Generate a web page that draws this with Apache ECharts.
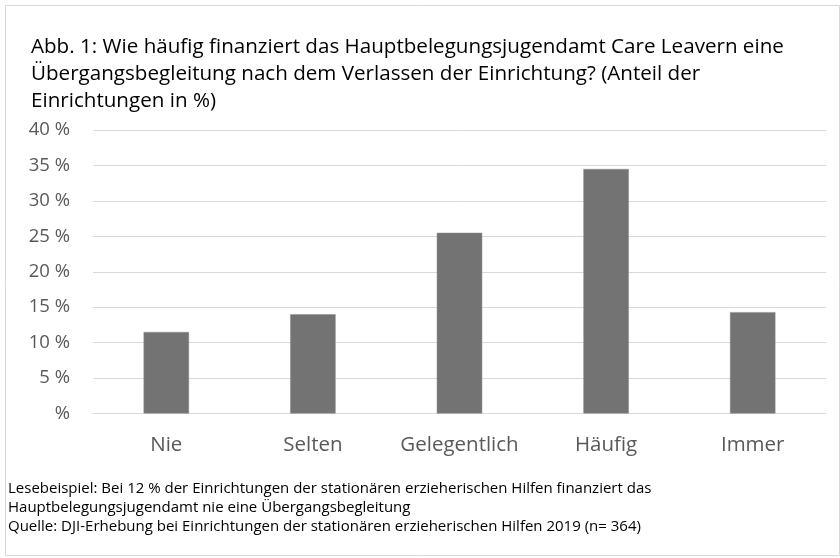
<!DOCTYPE html>
<html>
<head>
<meta charset="utf-8">
<script src="https://cdn.jsdelivr.net/npm/echarts@6/dist/echarts.min.js"></script>
<style>
html, body { margin: 0; padding: 0; background: #fff; }
#chart { width: 840px; height: 558px; }
</style>
</head>
<body>
<div id="chart"></div>
<script>
// Kategorien und Anteile (in %)
var categories = ['Nie', 'Selten', 'Gelegentlich', 'Häufig', 'Immer'];
var values = [11.5, 14.0, 25.5, 34.5, 14.3];

var titleLines = [
    'Abb. 1: Wie häufig finanziert das Hauptbelegungsjugendamt Care Leavern eine',
    'Übergangsbegleitung nach dem Verlassen der Einrichtung? (Anteil der',
    'Einrichtungen in %)'
];
var noteLines = [
    'Lesebeispiel: Bei 12 % der Einrichtungen der stationären erzieherischen Hilfen finanziert das',
    'Hauptbelegungsjugendamt nie eine Übergangsbegleitung',
    'Quelle: DJI-Erhebung bei Einrichtungen der stationären erzieherischen Hilfen 2019 (n= 364)'
];

var font = '"Open Sans", "Noto Sans", sans-serif';
var chart = echarts.init(document.getElementById('chart'));
chart.setOption({
    backgroundColor: '#fff',
    animation: false,
    title: {
        text: titleLines.join('\n'),
        left: 26,
        top: 28.5,
        textStyle: {
            fontFamily: font,
            fontSize: 20.6,
            fontWeight: 'normal',
            color: '#000',
            lineHeight: 27
        }
    },
    grid: {
        left: 93,
        right: 14,
        top: 130,
        bottom: 144.5
    },
    xAxis: {
        type: 'category',
        data: categories,
        axisLine: { lineStyle: { color: '#d9d9d9', width: 1 } },
        axisTick: { show: false },
        axisLabel: {
            interval: 0,
            fontFamily: font,
            fontSize: 20.5,
            color: '#595959',
            margin: 21
        }
    },
    yAxis: {
        type: 'value',
        min: 0,
        max: 40,
        interval: 5,
        axisLine: { show: false },
        axisTick: { show: false },
        splitLine: { lineStyle: { color: '#d9d9d9', width: 1 } },
        axisLabel: {
            fontFamily: font,
            fontSize: 18.5,
            color: '#595959',
            margin: 23,
            formatter: function (v) {
                return v === 0 ? '%' : v + ' %';
            }
        }
    },
    series: [{
        type: 'bar',
        data: values,
        barWidth: '31%',
        itemStyle: {
            color: '#737373',
            borderColor: '#8c8c8c',
            borderWidth: 0.5
        }
    }],
    graphic: [
        {
            type: 'rect',
            left: 3,
            top: 3,
            shape: { width: 834, height: 550 },
            style: { fill: 'none', stroke: '#d9d9d9', lineWidth: 1 }
        },
        {
            type: 'text',
            left: 8,
            top: 479.5,
            style: {
                text: noteLines.join('\n'),
                font: '15px ' + font,
                fill: '#000',
                lineHeight: 19
            }
        }
    ]
});
</script>
</body>
</html>
